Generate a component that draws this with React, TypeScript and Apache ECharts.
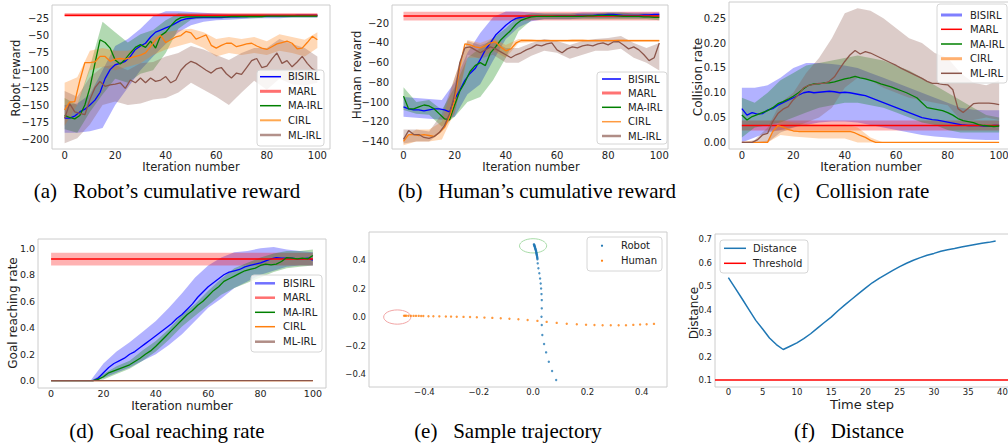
import React, { useEffect, useRef } from 'react';
import * as echarts from 'echarts';

// ---------- shared x values ----------
const X2 = [0,2,4,6,8,10,12,14,16,18,20,22,24,26,28,30,32,34,36,38,40,42,44,46,48,50,52,54,56,58,60,62,64,66,68,70,72,74,76,78,80,82,84,86,88,90,92,94,96,98,100];
const X5 = [0,5,10,15,20,25,30,35,40,45,50,55,60,65,70,75,80,85,90,95,100];
const X_FLAT = [0, 100];

const NAMES = ['BISIRL', 'MARL', 'MA-IRL', 'CIRL', 'ML-IRL'];
const COLORS = ['#0000ff', '#ff0000', '#008000', '#ff7f0e', '#8c564b'];
const BAND_FILLS = ['rgba(0,0,255,0.3)', 'rgba(255,0,0,0.3)', 'rgba(0,128,0,0.3)', 'rgba(255,127,14,0.3)', 'rgba(140,86,75,0.3)'];

// ---------- (a) Robot's cumulative reward ----------
const A_BIS = [-169,-169,-166,-160,-156,-150,-143,-132,-112,-99,-92,-90,-87,-80,-70,-65,-61,-52,-45,-42,-39,-36,-32,-28,-26,-25,-24,-24,-24,-24,-24,-24,-23.5,-23,-23,-22.5,-22.5,-22,-22,-22,-22,-21.5,-21.5,-21.5,-21.5,-21.5,-21,-21,-21,-21,-21];
const A_BIS_LO = [-190,-190,-188,-183,-150,-125,-100,-80,-62,-45,-35,-30,-28,-27,-26,-25,-25,-25,-24,-24,-24];
const A_BIS_HI = [-150,-148,-135,-100,-65,-55,-40,-22,-15,-15,-16,-17,-18,-19,-19,-19,-19,-19,-19,-19,-19];
const A_MARL = [-20.5, -20.5];
const A_MARL_LO = [-23, -23];
const A_MARL_HI = [-17.5, -17.5];
const A_MA = [-165,-168,-170,-165,-150,-125,-90,-56,-60,-68,-85,-91,-84,-75,-67,-63,-67,-58,-68,-50,-45,-36,-28,-24,-23,-23,-23,-23,-23,-23,-23,-23,-23,-22.5,-22.5,-22.5,-22.5,-22.5,-22.5,-22.5,-22,-22,-22,-22,-22,-22,-22,-22,-22,-22,-22];
const A_MA_LO = [-185,-190,-160,-135,-112,-118,-105,-100,-75,-40,-27,-25,-25,-25,-25,-25,-24,-24,-24,-24,-24];
const A_MA_HI = [-140,-150,-95,-30,-45,-60,-48,-42,-28,-18,-19,-20,-20,-20,-20,-20,-20,-20,-20,-20,-20];
const A_CIRL = [-157,-146,-145,-115,-89,-89,-88,-80,-80,-87,-84,-83,-84,-82,-80,-78,-75,-66,-56,-50,-60,-56,-52,-50,-44,-46,-55,-52,-49,-64,-68,-64,-61,-61,-66,-64,-62,-61,-65,-68,-70,-66,-62,-60,-58,-61,-69,-68,-60,-51,-56];
const A_CIRL_LO = [-180,-150,-100,-95,-100,-95,-90,-78,-70,-65,-60,-68,-80,-75,-78,-75,-78,-72,-75,-80,-68];
const A_CIRL_HI = [-118,-110,-72,-68,-72,-72,-66,-52,-45,-42,-40,-45,-55,-52,-55,-52,-58,-48,-52,-56,-45];
const A_ML = [-169,-148,-160,-162,-164,-142,-125,-116,-123,-121,-120,-118,-126,-114,-118,-111,-118,-111,-116,-114,-109,-118,-114,-100,-92,-87,-90,-95,-100,-104,-98,-96,-105,-111,-104,-106,-96,-86,-83,-96,-94,-84,-75,-90,-86,-95,-88,-80,-90,-98,-102];
const A_ML_LO = [-205,-198,-178,-150,-145,-150,-148,-142,-140,-132,-118,-128,-138,-150,-132,-115,-128,-112,-120,-122,-118];
const A_ML_HI = [-130,-138,-110,-95,-92,-100,-90,-88,-80,-75,-65,-70,-78,-85,-75,-68,-68,-55,-62,-68,-80];

// ---------- (b) Human's cumulative reward ----------
const B_BIS = [-105,-107,-108,-108,-109,-108,-107,-107,-108,-110,-97,-88,-78,-71,-66,-57,-47,-40,-32,-27,-22,-18,-15,-14,-13,-13,-13,-13,-13,-13,-12.5,-12.5,-12.5,-12.5,-12,-12,-12,-12,-11.5,-11.5,-11,-11,-11.5,-12,-12,-12,-12,-11.5,-11.5,-11,-11];
const B_BIS_LO = [-115,-116,-117,-118,-115,-92,-82,-58,-36,-24,-18,-16,-16,-16,-15,-15,-15,-15,-15,-15,-15];
const B_BIS_HI = [-95,-96,-97,-98,-80,-50,-30,-14,-8,-8,-9,-10,-10,-10,-9,-9,-9,-9,-9,-9,-9];
const B_MARL = [-12.6, -12.6];
const B_MARL_LO = [-17.3, -17.3];
const B_MARL_HI = [-8.2, -8.2];
const B_MA = [-94,-107,-107,-105,-103,-104,-107,-112,-117,-118,-103,-89,-80,-69,-63,-60,-63,-50,-44,-37,-32,-27,-21,-17,-15,-13.5,-13,-13,-13,-13,-13,-13,-13,-13,-13,-13,-12.5,-12.5,-12,-12,-12,-12,-12.5,-13,-13,-13,-13,-13.5,-13.5,-14,-14];
const B_MA_LO = [-108,-112,-113,-125,-115,-100,-95,-78,-55,-28,-17,-16,-16,-16,-16,-16,-16,-16,-16,-16,-17];
const B_MA_HI = [-85,-100,-98,-108,-85,-55,-45,-35,-25,-13,-10,-10,-10,-10,-10,-10,-9,-9,-10,-10,-11];
const B_CIRL = [-140,-133,-133,-134,-133,-134,-135,-131,-126,-115,-98,-64,-41,-42,-44,-45,-43,-40,-39,-44,-48,-46,-40,-37.5,-37.5,-37.5,-37.6,-37.6,-37.6,-37.7,-37.7,-37.6,-37.6,-37.5,-37.5,-37.5,-37.6,-37.6,-37.7,-37.7,-37.6,-37.6,-37.5,-37.5,-37.6,-37.6,-37.6,-37.7,-37.7,-37.7,-37.7];
const B_CIRL_LO = [-144,-140,-140,-138,-110,-55,-55,-48,-55,-40,-39,-39,-39,-39,-39,-39,-39,-39,-39,-39,-39];
const B_CIRL_HI = [-136,-128,-128,-120,-75,-37,-40,-35,-42,-36,-36.5,-36.5,-36.5,-36.5,-36.5,-36.5,-36.5,-36.5,-36.5,-36.5,-36.5];
const B_ML = [-138,-129,-133,-133,-136,-137,-135,-131,-124,-112,-92,-60,-45,-44,-47,-50,-47,-44,-46,-49,-52,-55,-52,-50,-47,-45,-42,-43,-41,-40,-47,-50,-46,-44,-45,-43,-42,-43,-41,-40,-42,-39,-38.6,-42,-46,-44,-47,-52,-58,-55,-40];
const B_ML_LO = [-142,-140,-140,-130,-112,-52,-56,-52,-60,-60,-53,-48,-50,-56,-52,-48,-48,-46,-55,-60,-68];
const B_ML_HI = [-128,-128,-130,-112,-75,-38,-42,-38,-45,-45,-40,-36,-38,-42,-38,-36,-35,-33,-40,-45,-40];

// ---------- (c) Collision rate ----------
const C_BIS = [0.068,0.055,0.06,0.057,0.058,0.065,0.068,0.075,0.08,0.085,0.09,0.095,0.1,0.102,0.1,0.101,0.102,0.103,0.102,0.1,0.101,0.1,0.098,0.096,0.094,0.09,0.086,0.082,0.078,0.074,0.07,0.066,0.062,0.058,0.054,0.05,0.048,0.046,0.045,0.043,0.041,0.039,0.037,0.035,0.034,0.034,0.034,0.033,0.033,0.034,0.034];
const C_BIS_LO = [0.0,0.01,0.02,0.025,0.03,0.035,0.04,0.042,0.042,0.04,0.035,0.03,0.025,0.02,0.015,0.012,0.01,0.008,0.006,0.005,0.005];
const C_BIS_HI = [0.11,0.11,0.115,0.13,0.15,0.16,0.16,0.158,0.155,0.15,0.14,0.13,0.12,0.11,0.1,0.09,0.08,0.07,0.066,0.065,0.065];
const C_MARL = [0.034, 0.034];
const C_MARL_LO = [0.024, 0.024];
const C_MARL_HI = [0.044, 0.044];
const C_MA = [0.055,0.045,0.052,0.056,0.06,0.064,0.07,0.078,0.082,0.087,0.093,0.1,0.108,0.115,0.118,0.118,0.12,0.12,0.122,0.125,0.128,0.13,0.133,0.13,0.128,0.125,0.122,0.118,0.115,0.112,0.108,0.104,0.1,0.095,0.09,0.08,0.07,0.068,0.066,0.064,0.06,0.055,0.048,0.044,0.042,0.04,0.036,0.034,0.033,0.032,0.033];
const C_MA_LO = [0.01,0.03,0.035,0.04,0.05,0.06,0.07,0.075,0.08,0.08,0.075,0.07,0.06,0.05,0.04,0.035,0.025,0.02,0.02,0.02,0.02];
const C_MA_HI = [0.09,0.08,0.1,0.125,0.14,0.155,0.16,0.165,0.17,0.175,0.17,0.165,0.155,0.145,0.13,0.115,0.1,0.085,0.07,0.055,0.05];
const C_CIRL = [0,0,0,0,0,0,0.022,0.034,0.031,0.026,0.023,0.022,0.022,0.022,0.022,0.022,0.022,0.022,0.022,0.022,0.022,0.022,0.019,0.014,0.01,0.004,0,0,0,0,0,0,0,0,0,0,0,0,0,0,0,0,0,0,0,0,0,0,0,0,0];
const C_CIRL_LO = [0,0,0,0.015,0.012,0.01,0.008,0.008,0.008,0,0,0,0,0,0,0,0,0,0,0,0];
const C_CIRL_HI = [0,0,0.004,0.045,0.04,0.038,0.036,0.036,0.036,0.03,0.01,0,0,0,0,0,0,0,0,0,0];
const C_ML = [0,0,0,0.005,0.015,0.018,0.042,0.058,0.067,0.072,0.086,0.096,0.11,0.115,0.117,0.119,0.119,0.123,0.132,0.148,0.163,0.176,0.185,0.178,0.183,0.18,0.175,0.17,0.165,0.16,0.155,0.149,0.144,0.139,0.134,0.129,0.123,0.119,0.119,0.117,0.116,0.106,0.068,0.06,0.069,0.078,0.079,0.079,0.079,0.078,0.076];
const C_ML_LO = [0,0,0,0.02,0.03,0.04,0.05,0.07,0.11,0.13,0.125,0.11,0.1,0.09,0.085,0.08,0.075,0.045,0.045,0.05,0.045];
const C_ML_HI = [0,0.005,0.03,0.08,0.1,0.14,0.17,0.21,0.26,0.27,0.265,0.25,0.23,0.21,0.2,0.18,0.17,0.14,0.12,0.115,0.125];

// ---------- (d) Goal reaching rate ----------
const D_BIS = [0,0,0,0,0,0,0,0,0,0.02,0.06,0.1,0.13,0.15,0.17,0.2,0.22,0.25,0.28,0.31,0.34,0.37,0.4,0.43,0.47,0.5,0.54,0.58,0.63,0.67,0.71,0.74,0.77,0.8,0.82,0.83,0.84,0.86,0.87,0.88,0.89,0.905,0.92,0.93,0.925,0.925,0.925,0.92,0.92,0.925,0.91];
const D_BIS_LO = [0,0,0,0,0.02,0.06,0.1,0.15,0.2,0.27,0.35,0.45,0.55,0.62,0.7,0.75,0.8,0.83,0.86,0.87,0.87];
const D_BIS_HI = [0,0,0,0,0.13,0.22,0.29,0.37,0.45,0.55,0.66,0.78,0.87,0.93,0.97,0.98,1.0,1.01,0.99,0.98,0.97];
const D_MARL = [0.919, 0.919];
const D_MARL_LO = [0.869, 0.869];
const D_MARL_HI = [0.967, 0.967];
const D_MA = [0,0,0,0,0,0,0,0,0,0.01,0.03,0.06,0.075,0.09,0.105,0.12,0.145,0.17,0.2,0.225,0.26,0.3,0.34,0.38,0.42,0.46,0.5,0.53,0.57,0.6,0.64,0.68,0.71,0.75,0.77,0.79,0.81,0.83,0.84,0.85,0.87,0.88,0.875,0.88,0.9,0.93,0.925,0.92,0.925,0.92,0.945];
const D_MA_LO = [0,0,0,0,0.01,0.05,0.09,0.15,0.22,0.31,0.41,0.49,0.57,0.65,0.7,0.74,0.78,0.82,0.85,0.86,0.87];
const D_MA_HI = [0,0,0,0,0.05,0.11,0.15,0.23,0.3,0.39,0.5,0.58,0.68,0.77,0.85,0.89,0.93,0.96,0.98,0.98,0.99];
const D_CIRL = [0, 0];
const D_ML = [0, 0];

// ---------- (e) Sample trajectory ----------
const ROBOT_X = [0.003,0.004,0.005,0.005,0.006,0.007,0.007,0.008,0.009,0.009,0.010,0.011,0.011,0.012,0.012,0.013,0.013,0.014,0.014,0.015,0.015,0.016,0.016,0.017,0.0196,0.023,0.0258,0.028,0.0295,0.031,0.032,0.032,0.031,0.032,0.034,0.0405,0.048,0.058,0.07,0.085];
const ROBOT_Y = [0.510,0.507,0.503,0.499,0.495,0.491,0.487,0.483,0.478,0.474,0.469,0.465,0.460,0.455,0.450,0.445,0.440,0.435,0.430,0.424,0.418,0.412,0.405,0.377,0.342,0.307,0.271,0.236,0.201,0.161,0.119,0.061,0.002,-0.056,-0.126,-0.189,-0.248,-0.314,-0.379,-0.442];
const HUMAN_X = [-0.475,-0.471,-0.467,-0.459,-0.450,-0.440,-0.431,-0.421,-0.412,-0.404,-0.385,-0.367,-0.345,-0.321,-0.302,-0.281,-0.256,-0.232,-0.207,-0.179,-0.150,-0.119,-0.087,-0.054,-0.020,0.016,0.050,0.087,0.124,0.161,0.195,0.226,0.256,0.286,0.315,0.342,0.369,0.394,0.418,0.445];
const HUMAN_Y = [0.009,0.009,0.009,0.009,0.008,0.008,0.008,0.008,0.007,0.007,0.006,0.006,0.005,0.004,0.003,0.002,0.001,0.0,-0.002,-0.004,-0.006,-0.009,-0.012,-0.016,-0.021,-0.027,-0.034,-0.041,-0.047,-0.051,-0.054,-0.056,-0.058,-0.058,-0.058,-0.057,-0.055,-0.052,-0.050,-0.048];
const GOALS = [[0, 0.5], [-0.5, 0]];
const GOAL_RADIUS = 0.05;
const GOAL_COLORS = ['#a8dca8', '#f2a5a5'];

// ---------- (f) Distance ----------
const STEPS = [0,1,2,3,4,5,6,7,8,9,10,11,12,13,14,15,16,17,18,19,20,21,22,23,24,25,26,27,28,29,30,31,32,33,34,35,36,37,38,39];
const DIST = [0.536,0.491,0.446,0.400,0.354,0.317,0.279,0.251,0.230,0.244,0.258,0.276,0.297,0.321,0.345,0.368,0.395,0.420,0.444,0.468,0.491,0.514,0.533,0.550,0.567,0.583,0.597,0.610,0.621,0.631,0.639,0.648,0.655,0.660,0.666,0.672,0.677,0.682,0.686,0.692];
const THRESHOLD = 0.1;

// ---------- tick labels ----------
const ITER_TICKS = [0, 20, 40, 60, 80, 100];
const A_YTICKS = [-200, -175, -150, -125, -100, -75, -50, -25];
const B_YTICKS = [-140, -120, -100, -80, -60, -40, -20];
const C_YTICKS = [0, 0.05, 0.1, 0.15, 0.2, 0.25];
const D_YTICKS = [0, 0.2, 0.4, 0.6, 0.8, 1.0];
const E_TICKS = [-0.4, -0.2, 0, 0.2, 0.4];
const F_XTICKS = [0, 5, 10, 15, 20, 25, 30, 35, 40];
const F_YTICKS = [0.1, 0.2, 0.3, 0.4, 0.5, 0.6, 0.7];

const GAP = '\u00a0\u00a0\u00a0';
const CAPTIONS = [
  `(a)${GAP}Robot\u2019s cumulative reward`,
  `(b)${GAP}Human\u2019s cumulative reward`,
  `(c)${GAP}Collision rate`,
  `(d)${GAP}Goal reaching rate`,
  `(e)${GAP}Sample trajectory`,
  `(f)${GAP}Distance`,
];

// ---------- layout (not data) ----------
const FONT = '"DejaVu Sans", sans-serif';
const SERIF = '"Liberation Serif", "Times New Roman", serif';
const GRID_BOXES = [
  [52, 5, 278, 144],
  [392, 5, 276, 144],
  [729, 2, 283, 147],
  [38, 239, 288, 149],
  [369, 232, 298, 155],
  [715, 234, 294, 153],
];
const AXES = [
  { x: [-5, 105], y: [-213.4, -5.9], xt: ITER_TICKS, yt: A_YTICKS, xd: 0, yd: 0, fs: 10, xm: 1 },
  { x: [-4.5, 103.4], y: [-147.7, -1.45], xt: ITER_TICKS, yt: B_YTICKS, xd: 0, yd: 0, fs: 10, xm: 1 },
  { x: [-5, 105], y: [-0.0133, 0.2828], xt: ITER_TICKS, yt: C_YTICKS, xd: 0, yd: 2, fs: 10, xm: 1 },
  { x: [-5, 105], y: [-0.055, 1.07], xt: ITER_TICKS, yt: D_YTICKS, xd: 0, yd: 1, fs: 9.5, xm: 1 },
  { x: [-0.604, 0.493], y: [-0.491, 0.597], xt: E_TICKS, yt: E_TICKS, xd: 1, yd: 1, fs: 8.5, xm: 1 },
  { x: [-1.95, 40.95], y: [0.0704, 0.7216], xt: F_XTICKS, yt: F_YTICKS, xd: 0, yd: 1, fs: 8.5, xm: 1 },
];

const fmt = (d: number) => (v: number) => (v < -1e-9 ? '\u2212' : '') + Math.abs(v).toFixed(d);

type Def = { x: number[]; y: number[]; bx?: number[]; lo?: number[]; hi?: number[] };

const PANELS: Def[][] = [
  [
    { x: X2, y: A_BIS, bx: X5, lo: A_BIS_LO, hi: A_BIS_HI },
    { x: X_FLAT, y: A_MARL, bx: X_FLAT, lo: A_MARL_LO, hi: A_MARL_HI },
    { x: X2, y: A_MA, bx: X5, lo: A_MA_LO, hi: A_MA_HI },
    { x: X2, y: A_CIRL, bx: X5, lo: A_CIRL_LO, hi: A_CIRL_HI },
    { x: X2, y: A_ML, bx: X5, lo: A_ML_LO, hi: A_ML_HI },
  ],
  [
    { x: X2, y: B_BIS, bx: X5, lo: B_BIS_LO, hi: B_BIS_HI },
    { x: X_FLAT, y: B_MARL, bx: X_FLAT, lo: B_MARL_LO, hi: B_MARL_HI },
    { x: X2, y: B_MA, bx: X5, lo: B_MA_LO, hi: B_MA_HI },
    { x: X2, y: B_CIRL, bx: X5, lo: B_CIRL_LO, hi: B_CIRL_HI },
    { x: X2, y: B_ML, bx: X5, lo: B_ML_LO, hi: B_ML_HI },
  ],
  [
    { x: X2, y: C_BIS, bx: X5, lo: C_BIS_LO, hi: C_BIS_HI },
    { x: X_FLAT, y: C_MARL, bx: X_FLAT, lo: C_MARL_LO, hi: C_MARL_HI },
    { x: X2, y: C_MA, bx: X5, lo: C_MA_LO, hi: C_MA_HI },
    { x: X2, y: C_CIRL, bx: X5, lo: C_CIRL_LO, hi: C_CIRL_HI },
    { x: X2, y: C_ML, bx: X5, lo: C_ML_LO, hi: C_ML_HI },
  ],
  [
    { x: X2, y: D_BIS, bx: X5, lo: D_BIS_LO, hi: D_BIS_HI },
    { x: X_FLAT, y: D_MARL, bx: X_FLAT, lo: D_MARL_LO, hi: D_MARL_HI },
    { x: X2, y: D_MA, bx: X5, lo: D_MA_LO, hi: D_MA_HI },
    { x: X_FLAT, y: D_CIRL },
    { x: X_FLAT, y: D_ML },
  ],
];

function bandSeries(gi: number, bx: number[], lo: number[], hi: number[], fill: string) {
  return {
    type: 'custom',
    xAxisIndex: gi,
    yAxisIndex: gi,
    silent: true,
    data: bx.map((x, i) => [x, lo[i], hi[i]]),
    encode: { x: 0, y: [1, 2] },
    renderItem: (params: any, api: any) => {
      if (params.dataIndex !== 0) return null;
      const upper = bx.map((x, i) => api.coord([x, hi[i]]));
      const lower = bx.map((x, i) => api.coord([x, lo[i]])).reverse();
      return { type: 'polygon', shape: { points: upper.concat(lower) }, style: { fill, stroke: 'none' } };
    },
  };
}

function lineSeries(gi: number, name: string, xs: number[], ys: number[], color: string, width = 1.3) {
  return {
    type: 'line',
    name,
    xAxisIndex: gi,
    yAxisIndex: gi,
    silent: true,
    symbol: 'none',
    showSymbol: false,
    data: xs.map((x, i) => [x, ys[i]]),
    lineStyle: { color, width },
    itemStyle: { color },
  };
}

function text(x: number, y: number, str: string, size: number, opts: any = {}) {
  const align = opts.align || 'center';
  return {
    type: 'text',
    x,
    y,
    z: 101,
    silent: true,
    rotation: opts.rot ? Math.PI / 2 : 0,
    style: {
      text: str,
      font: `${size}px ${opts.family || FONT}`,
      fill: opts.color || '#222222',
      textAlign: align,
      align,
      textVerticalAlign: 'middle',
      verticalAlign: 'middle',
    },
  };
}

function lineLegend(box: number[], x1: number, x2: number, tx: number, rows: number[], items: any[], fs = 10) {
  const els: any[] = [
    {
      type: 'rect', z: 100, silent: true,
      shape: { x: box[0], y: box[1], width: box[2], height: box[3], r: 3 },
      style: { fill: 'rgba(255,255,255,0.8)', stroke: '#d6d6d6', lineWidth: 1 },
    },
  ];
  items.forEach((it, i) => {
    els.push({ type: 'line', z: 101, silent: true, shape: { x1, y1: rows[i], x2, y2: rows[i] }, style: { stroke: it.color, lineWidth: it.width } });
    els.push(text(tx, rows[i], it.name, fs, { align: 'left' }));
  });
  return els;
}

function buildOption() {
  const grid = GRID_BOXES.map(([left, top, width, height]) => ({
    left, top, width, height,
    show: true, borderColor: '#cccccc', borderWidth: 1, backgroundColor: 'transparent',
    containLabel: false, outerBoundsMode: 'none',
  }));
  const label = (ticks: number[], d: number, fs: number, margin: number) => ({
    customValues: ticks, formatter: fmt(d), fontSize: fs, lineHeight: fs, color: '#222222', fontFamily: FONT, margin,
  });
  const xAxis = AXES.map((a, gi) => ({
    type: 'value', gridIndex: gi, min: a.x[0], max: a.x[1],
    axisLine: { show: false }, axisTick: { show: false }, splitLine: { show: false },
    axisLabel: label(a.xt, a.xd, a.fs, a.xm),
  }));
  const yAxis = AXES.map((a, gi) => ({
    type: 'value', gridIndex: gi, min: a.y[0], max: a.y[1],
    axisLine: { show: false }, axisTick: { show: false }, splitLine: { show: false },
    axisLabel: label(a.yt, a.yd, a.fs, 3),
  }));

  const series: any[] = [];
  PANELS.forEach((defs, gi) => {
    defs.forEach((d, k) => {
      if (d.bx && d.lo && d.hi) series.push(bandSeries(gi, d.bx, d.lo, d.hi, BAND_FILLS[k]));
      series.push(lineSeries(gi, NAMES[k], d.x, d.y, COLORS[k], k === 1 ? 1.5 : 1.3));
    });
  });

  // (e) trajectory
  series.push({
    type: 'custom', xAxisIndex: 4, yAxisIndex: 4, silent: true,
    data: GOALS,
    renderItem: (params: any, api: any) => {
      const c = api.coord([api.value(0), api.value(1)]);
      const s = api.size([GOAL_RADIUS, GOAL_RADIUS]);
      return {
        type: 'ellipse',
        shape: { cx: c[0], cy: c[1], rx: s[0], ry: s[1] },
        style: { fill: 'none', stroke: GOAL_COLORS[params.dataIndex], lineWidth: 1 },
      };
    },
  });
  series.push({
    type: 'scatter', name: 'Robot', xAxisIndex: 4, yAxisIndex: 4, silent: true,
    symbol: 'circle', symbolSize: 2.4,
    data: ROBOT_X.map((x, i) => [x, ROBOT_Y[i]]),
    itemStyle: { color: '#1f77b4' },
  });
  series.push({
    type: 'scatter', name: 'Human', xAxisIndex: 4, yAxisIndex: 4, silent: true,
    symbol: 'circle', symbolSize: 2.4,
    data: HUMAN_X.map((x, i) => [x, HUMAN_Y[i]]),
    itemStyle: { color: '#ff7f0e' },
  });

  // (f) distance
  series.push({
    ...lineSeries(5, 'Distance', STEPS, DIST, '#1f77b4', 1.5),
    markLine: {
      silent: true, symbol: ['none', 'none'], label: { show: false },
      lineStyle: { color: '#ff0000', width: 1.6, type: 'solid' },
      data: [{ yAxis: THRESHOLD }],
    },
  });

  const graphics: any[] = [];
  // captions
  const capPos = [[167, 191], [537, 191], [853, 191], [167, 431], [508, 431], [849, 431]];
  CAPTIONS.forEach((c, i) => graphics.push(text(capPos[i][0], capPos[i][1], c, 21, { family: SERIF, color: '#000000' })));
  // axis titles
  graphics.push(text(16, 78, 'Robot reward', 11.5, { rot: true }));
  graphics.push(text(191, 167, 'Iteration number', 11.5));
  graphics.push(text(357, 75, 'Human reward', 12, { rot: true }));
  graphics.push(text(531, 167, 'Iteration number', 11.5));
  graphics.push(text(698, 77, 'Collision rate', 12, { rot: true }));
  graphics.push(text(871, 167, 'Iteration number', 12));
  graphics.push(text(13, 313, 'Goal reaching rate', 12, { rot: true }));
  graphics.push(text(182, 406, 'Iteration number', 12));
  graphics.push(text(694, 313, 'Distance', 12, { rot: true }));
  graphics.push(text(862, 404, 'Time step', 13));

  // legends
  graphics.push(...lineLegend([257, 70, 67, 76], 260, 281, 288, [76.7, 91.3, 105.7, 120.3, 135], [
    { name: NAMES[0], color: '#0000ff', width: 1.5 },
    { name: NAMES[1], color: '#ff7070', width: 3 },
    { name: NAMES[2], color: '#008000', width: 1.5 },
    { name: NAMES[3], color: '#ffa850', width: 2 },
    { name: NAMES[4], color: '#b3918b', width: 2.5 },
  ]));
  graphics.push(...lineLegend([597, 72, 70, 72], 602, 621, 628, [79, 93, 107.3, 121.7, 136], [
    { name: NAMES[0], color: '#0000ff', width: 1.5 },
    { name: NAMES[1], color: '#ff7373', width: 3 },
    { name: NAMES[2], color: '#008000', width: 1.5 },
    { name: NAMES[3], color: '#ff9a40', width: 1.5 },
    { name: NAMES[4], color: '#b08d86', width: 2.5 },
  ]));
  graphics.push(...lineLegend([937, 4, 70, 79], 941, 962, 970, [15, 29.3, 44, 58.7, 73.3], [
    { name: NAMES[0], color: '#7f7fff', width: 3 },
    { name: NAMES[1], color: '#ff0000', width: 1.5 },
    { name: NAMES[2], color: '#008000', width: 1.5 },
    { name: NAMES[3], color: '#ffb070', width: 3 },
    { name: NAMES[4], color: '#8c564b', width: 1.5 },
  ]));
  graphics.push(...lineLegend([251, 275, 71, 77], 255, 275, 283, [283.3, 297.7, 312.3, 326.7, 341.7], [
    { name: NAMES[0], color: '#7070ff', width: 2.5 },
    { name: NAMES[1], color: '#ff7070', width: 2.5 },
    { name: NAMES[2], color: '#008000', width: 1.5 },
    { name: NAMES[3], color: '#ff7f0e', width: 1.5 },
    { name: NAMES[4], color: '#b08d86', width: 2.5 },
  ]));
  graphics.push(...lineLegend([720, 240, 88, 33], 724, 746, 753, [248.3, 263.3], [
    { name: 'Distance', color: '#1f77b4', width: 1.5 },
    { name: 'Threshold', color: '#ff0000', width: 1.5 },
  ]));
  // scatter legend (e)
  graphics.push({
    type: 'rect', z: 100, silent: true,
    shape: { x: 587, y: 237, width: 75, height: 34, r: 3 },
    style: { fill: 'rgba(255,255,255,0.8)', stroke: '#d6d6d6', lineWidth: 1 },
  });
  [['Robot', '#1f77b4', 245.7], ['Human', '#ff7f0e', 260.7]].forEach(([n, c, y]) => {
    graphics.push({ type: 'circle', z: 101, silent: true, shape: { cx: 602, cy: y as number, r: 1.1 }, style: { fill: c as string } });
    graphics.push(text(621, y as number, n as string, 10, { align: 'left' }));
  });

  return { animation: false, grid, xAxis, yAxis, series, graphic: { elements: graphics } };
}

export default function App() {
  const ref = useRef<HTMLDivElement>(null);
  useEffect(() => {
    const chart = echarts.init(ref.current as HTMLDivElement, null, { renderer: 'svg' });
    chart.setOption(buildOption() as any);
    return () => chart.dispose();
  }, []);
  return (
    <div
      ref={ref}
      style={{ position: 'absolute', left: 0, top: 0, width: 1008, height: 447, background: '#ffffff' }}
    />
  );
}
